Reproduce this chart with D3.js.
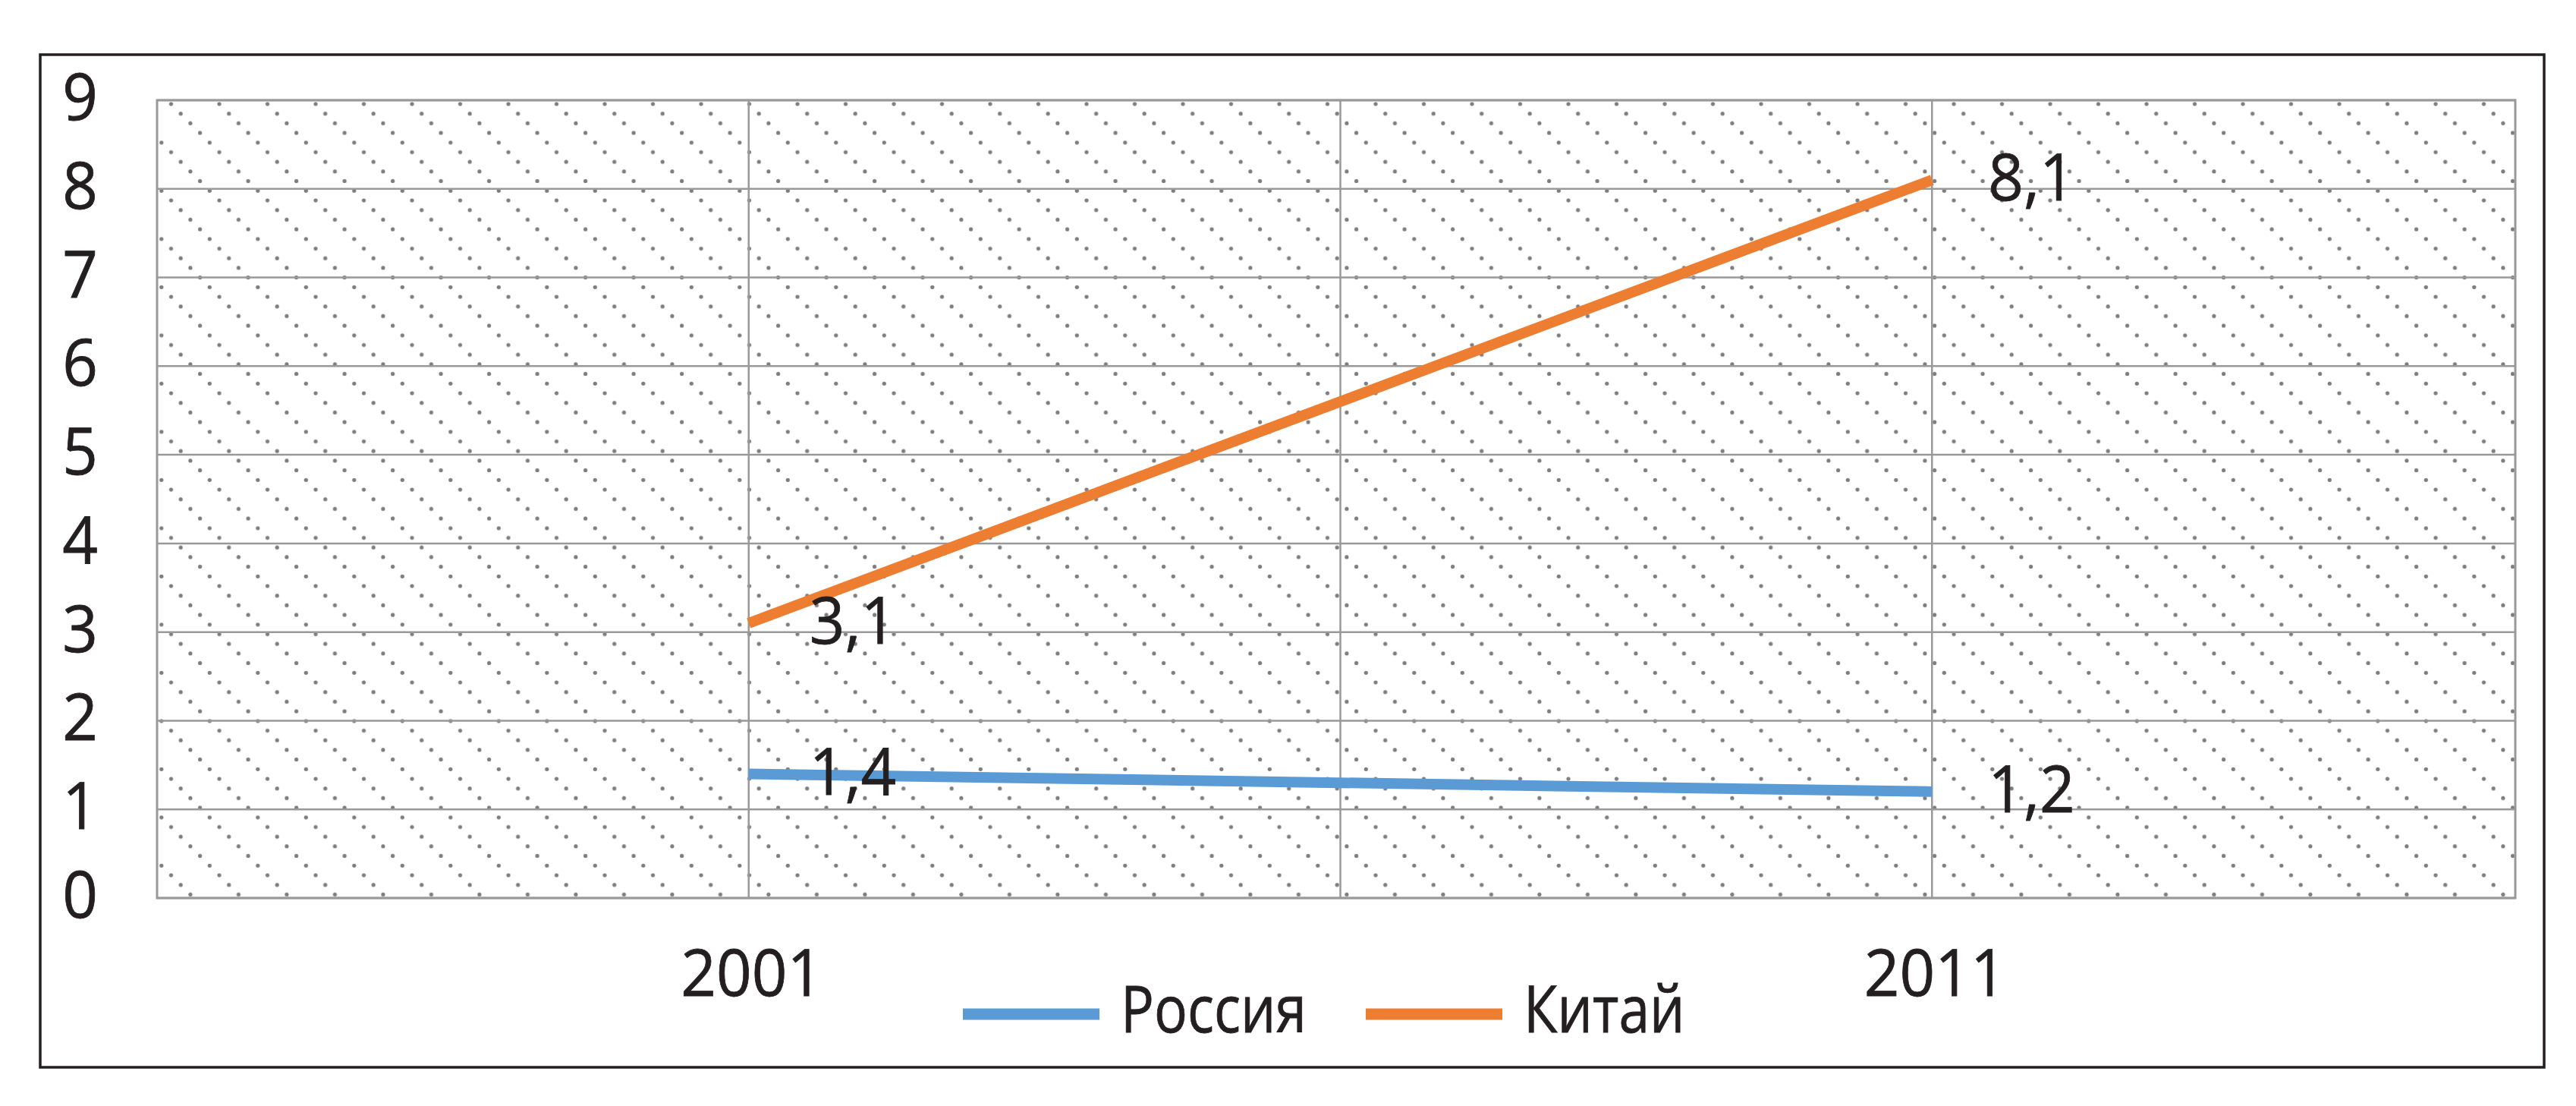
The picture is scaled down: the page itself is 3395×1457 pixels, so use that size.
<!DOCTYPE html>
<html>
<head>
<meta charset="utf-8">
<script src="https://cdn.jsdelivr.net/npm/d3@7"></script>
<style>
  html, body { margin: 0; padding: 0; background: #fff; }
  svg { display: block; }
</style>
</head>
<body>
<script>
// ---------- data ----------
const categories = ["2001", "2011"];
const seriesNames = ["Россия", "Китай"];
const russiaValues = [1.4, 1.2];
const chinaValues = [3.1, 8.1];
const yTickValues = [0, 1, 2, 3, 4, 5, 6, 7, 8, 9];
const seriesColors = ["#5b9bd5", "#ed7d31"];

const series = [
  { name: seriesNames[0], values: russiaValues, color: seriesColors[0] },
  { name: seriesNames[1], values: chinaValues, color: seriesColors[1] }
];

// ---------- layout ----------
const W = 3395, H = 1457;
const frame = { x: 53, y: 72, w: 3300, h: 1334 };
const plot = { left: 207, right: 3315, top: 132, bottom: 1183 };
const FONT = "'Open Sans', 'Noto Sans', sans-serif";
const FS = 86;
const TEXT = "#231f20";
const digitScale = 0.95;
const legendScale = 0.85;

const svg = d3.select("body").append("svg")
  .attr("width", W).attr("height", H)
  .attr("viewBox", `0 0 ${W} ${H}`);

// x: slots 0..4, categories sit on slots 1 and 3
const x = d3.scaleLinear().domain([0, 4]).range([plot.left, 3326]);
const catPos = i => x(2 * i + 1);
const y = d3.scaleLinear().domain([0, 9]).range([plot.bottom, plot.top]);

// ---------- pattern (dotted diagonals) ----------
const step = 12.7, tile = 63.5;
const defs = svg.append("defs");
const pat = defs.append("pattern")
  .attr("id", "dots")
  .attr("patternUnits", "userSpaceOnUse")
  .attr("x", 0).attr("y", 0)
  .attr("width", tile).attr("height", tile);
const dotPts = [];
for (let k = 0; k < 5; k++) {
  const px = (35 + step * k) % tile;
  const py = 10 + step * k;
  dotPts.push([px, py]);
  if (px < 3) dotPts.push([px + tile, py]);
  if (px > tile - 3) dotPts.push([px - tile, py]);
}
pat.selectAll("circle").data(dotPts).join("circle")
  .attr("cx", d => d[0]).attr("cy", d => d[1]).attr("r", 2.6)
  .attr("fill", "#7d7d7d");

// outer frame
svg.append("rect")
  .attr("x", frame.x).attr("y", frame.y)
  .attr("width", frame.w).attr("height", frame.h)
  .attr("fill", "#fff").attr("stroke", "#231f20").attr("stroke-width", 3.5);

// plot background pattern
svg.append("rect")
  .attr("x", plot.left).attr("y", plot.top)
  .attr("width", plot.right - plot.left).attr("height", plot.bottom - plot.top)
  .attr("fill", "url(#dots)");

// horizontal gridlines
const grid = svg.append("g").attr("stroke", "#999").attr("stroke-width", 2.5);
grid.selectAll("line.h").data(yTickValues).join("line")
  .attr("class", "h")
  .attr("x1", plot.left).attr("x2", plot.right)
  .attr("y1", d => y(d)).attr("y2", d => y(d));
// vertical gridlines
grid.selectAll("line.v").data([1, 2, 3]).join("line")
  .attr("class", "v")
  .attr("x1", d => x(d)).attr("x2", d => x(d))
  .attr("y1", plot.top).attr("y2", plot.bottom);
// plot border
svg.append("rect")
  .attr("x", plot.left).attr("y", plot.top)
  .attr("width", plot.right - plot.left).attr("height", plot.bottom - plot.top)
  .attr("fill", "none").attr("stroke", "#999").attr("stroke-width", 3);

// helper for condensed text
function ctext(parent, tx, ty, str, anchor, sx) {
  const g = parent.append("g").attr("transform", `translate(${tx},${ty}) scale(${sx},1)`);
  g.append("text")
    .attr("x", 0).attr("y", 0)
    .attr("text-anchor", anchor)
    .attr("font-family", FONT).attr("font-size", FS)
    .attr("fill", TEXT)
    .attr("stroke", TEXT).attr("stroke-width", 0.8)
    .text(str);
  return g;
}

// y axis labels
const yAx = svg.append("g");
yTickValues.forEach(v => ctext(yAx, 129, y(v) + 26, String(v), "end", digitScale));

// x axis labels
const xAx = svg.append("g");
categories.forEach((c, i) => ctext(xAx, catPos(i) + 4, 1312, c, "middle", digitScale));

// lines
const line = d3.line().x((d, i) => catPos(i)).y(d => y(d));
svg.append("g").selectAll("path").data(series).join("path")
  .attr("d", d => line(d.values))
  .attr("fill", "none")
  .attr("stroke", d => d.color)
  .attr("stroke-width", 14)
  .attr("stroke-linecap", "butt");

// data labels
const fmt = v => String(v).replace(".", ",");
const labOffsets = [80, 74];
const lab = svg.append("g");
series.forEach(s => {
  s.values.forEach((v, i) => ctext(lab, catPos(i) + labOffsets[i], y(v) + 27, fmt(v), "start", digitScale));
});

// legend
const legendItems = [
  { name: series[0].name, color: series[0].color, x: 1269 },
  { name: series[1].name, color: series[1].color, x: 1800 }
];
const leg = svg.append("g");
legendItems.forEach(it => {
  leg.append("line")
    .attr("x1", it.x).attr("x2", it.x + 180)
    .attr("y1", 1336).attr("y2", 1336)
    .attr("stroke", it.color).attr("stroke-width", 15);
  ctext(leg, it.x + 208, 1360, it.name, "start", legendScale);
});
</script>
</body>
</html>
